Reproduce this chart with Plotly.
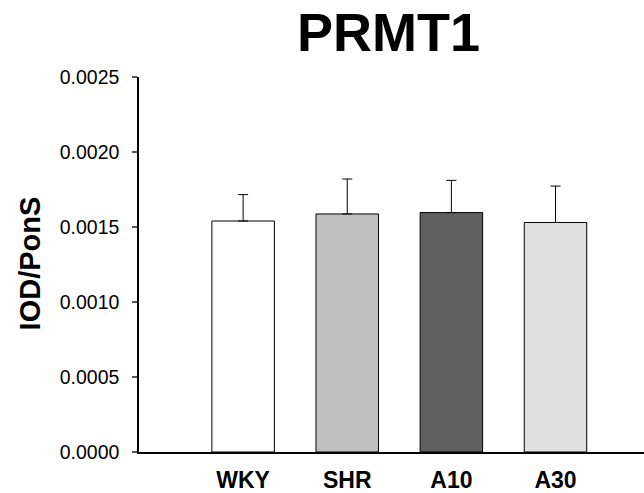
import plotly.graph_objects as go

categories = ["WKY", "SHR", "A10", "A30"]
means = [0.00154, 0.001587, 0.001596, 0.00153]
upper = [0.001716, 0.00182, 0.001811, 0.001773]
errors = [u - m for u, m in zip(upper, means)]
bar_colors = ["#ffffff", "#c0c0c0", "#606060", "#e0e0e0"]
y_ticks = [0.0, 0.0005, 0.0010, 0.0015, 0.0020, 0.0025]
y_ticktext = ["0.0000", "0.0005", "0.0010", "0.0015", "0.0020", "0.0025"]

FONT = "Liberation Sans, Arial, sans-serif"

fig = go.Figure()
fig.add_trace(go.Bar(
    x=categories,
    y=means,
    width=0.6,
    marker=dict(color=bar_colors, line=dict(color="#000000", width=1)),
    error_y=dict(type="data", array=errors, arrayminus=[0] * len(errors),
                 symmetric=False, color="#000000", thickness=1, width=5),
    showlegend=False,
))

fig.update_layout(
    width=644, height=493,
    margin=dict(l=139, r=0, t=77, b=41),
    plot_bgcolor="white", paper_bgcolor="white",
    font=dict(family=FONT, color="#000000"),
    xaxis=dict(
        range=[-1.0, 3.85],
        showline=True, linecolor="#000000", linewidth=1.5,
        ticks="", showgrid=False, zeroline=False,
        tickfont=dict(size=23, family=FONT, weight="bold"),
        ticklabelstandoff=7,
    ),
    yaxis=dict(
        range=[0, 0.0025],
        tickvals=y_ticks, ticktext=y_ticktext,
        showline=True, linecolor="#000000", linewidth=1.5,
        ticks="outside", ticklen=5, tickcolor="#555555", tickwidth=1.5,
        showgrid=False, zeroline=False,
        tickfont=dict(size=19.5),
        ticklabelstandoff=9,
    ),
    annotations=[
        dict(text="<b>PRMT1</b>", xref="paper", yref="paper",
             x=0.495, y=1.0, yshift=45, xanchor="center", yanchor="middle",
             showarrow=False, font=dict(size=54, family=FONT)),
        dict(text="<b>IOD/PonS</b>", xref="paper", yref="paper",
             x=(30 - 139) / 505, y=0.503, xanchor="center", yanchor="middle",
             textangle=-90, showarrow=False, font=dict(size=29, family=FONT)),
    ],
)

fig.write_html("out.html")
